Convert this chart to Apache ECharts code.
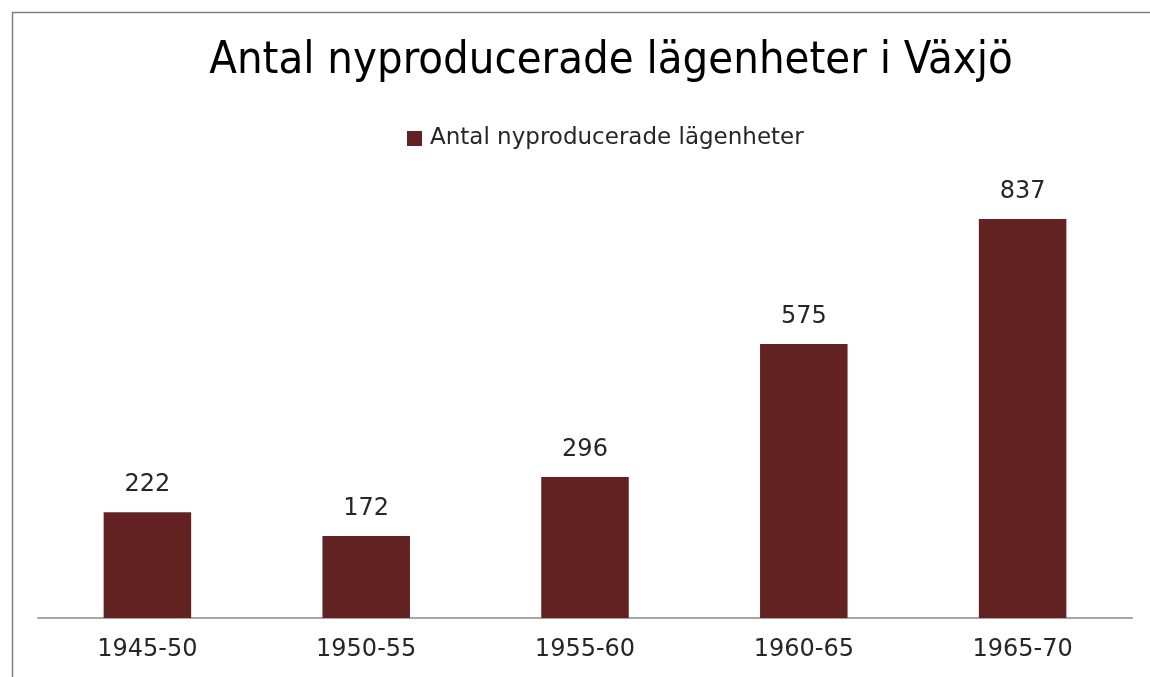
<!DOCTYPE html>
<html>
<head>
<meta charset="utf-8">
<script src="https://cdn.jsdelivr.net/npm/echarts@6/dist/echarts.min.js"></script>
<style>html,body{margin:0;padding:0;background:#fff}#c{width:1150px;height:677px}</style>
</head>
<body>
<div id="c"></div>
<script>
const categories = ['1945-50', '1950-55', '1955-60', '1960-65', '1965-70'];
const seriesName = 'Antal nyproducerade lägenheter';
const values = [222, 172, 296, 575, 837];
const titleText = 'Antal nyproducerade lägenheter i Växjö';

const chart = echarts.init(document.getElementById('c'), null, {renderer: 'canvas'});
chart.setOption({
  backgroundColor: '#ffffff',
  animation: false,
  graphic: [{
    type: 'polyline',
    shape: {points: [[12.5, 677], [12.5, 12.5], [1150, 12.5]]},
    style: {stroke: '#808080', lineWidth: 1.5, fill: null},
    silent: true
  }],
  title: {
    text: titleText,
    left: 606,
    top: 34,
    textAlign: 'center',
    textStyle: {fontFamily: "'DejaVu Sans Condensed', Roboto, 'Liberation Sans', sans-serif", fontSize: 45, fontWeight: 300, color: '#000000'}
  },
  legend: {
    data: [seriesName],
    left: 402,
    top: 122,
    icon: 'rect',
    itemWidth: 15,
    itemHeight: 15,
    itemGap: 8,
    textStyle: {fontFamily: 'DejaVu Sans', fontSize: 23, color: '#262626', padding: [0, 0, 0, 3]}
  },
  grid: {left: 38, right: 18, top: 189, bottom: 59, containLabel: false},
  xAxis: {
    type: 'category',
    data: categories,
    axisLine: {lineStyle: {color: '#a6a6a6', width: 2}},
    axisTick: {show: false},
    axisLabel: {fontFamily: 'DejaVu Sans', fontSize: 24, color: '#262626', margin: 20}
  },
  yAxis: {
    type: 'value',
    min: 0,
    max: 900,
    show: false,
    splitLine: {show: false}
  },
  series: [{
    name: seriesName,
    type: 'bar',
    data: values,
    barWidth: '40%',
    itemStyle: {color: '#632222'},
    label: {
      show: true,
      position: 'top',
      distance: 15,
      fontFamily: 'DejaVu Sans',
      fontSize: 24,
      color: '#262626'
    }
  }]
});
</script>
</body>
</html>
